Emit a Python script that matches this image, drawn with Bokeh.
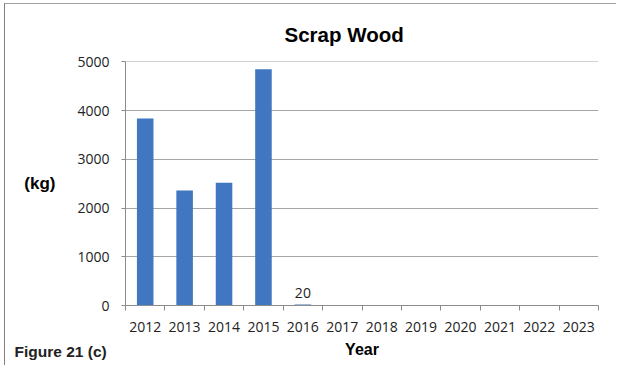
from bokeh.plotting import figure
from bokeh.models import Range1d, FixedTicker, ColumnDataSource, Title
from bokeh.core.properties import value
from bokeh.embed import file_html
from bokeh.resources import INLINE

years = ["2012", "2013", "2014", "2015", "2016", "2017", "2018",
         "2019", "2020", "2021", "2022", "2023"]
scrap_wood_kg = [3840, 2360, 2520, 4850, 20, None, None, None, None, None, None, None]
labelled_years = ["2016"]
y_ticks = [0, 1000, 2000, 3000, 4000, 5000]
title_text = "Scrap Wood"
y_label = "(kg)"
x_label = "Year"
figure_note = "Figure 21 (c)"

xs = [i + 0.5 for i in range(len(years))]
vals = [float("nan") if v is None else v for v in scrap_wood_kg]

p = figure(width=612, height=362, output_backend="svg", toolbar_location=None,
           x_range=Range1d(0, len(years)), y_range=Range1d(0, 5010),
           min_border_left=120, min_border_right=19, min_border_top=57,
           min_border_bottom=61, title=None)
p.styles = {"margin-left": "4px", "margin-top": "3px",
            "border-left": "1px solid #808080", "border-top": "1px solid #a0a0a0"}
p.outline_line_color = None
p.background_fill_color = "white"
p.border_fill_color = "white"

src = ColumnDataSource(dict(x=xs, top=vals))
p.vbar(x="x", top="top", width=0.42, source=src, fill_color="#4177c0", line_color=None)

lab_x = [xs[years.index(y)] for y in labelled_years]
lab_y = [scrap_wood_kg[years.index(y)] for y in labelled_years]
lab_t = [str(v) for v in lab_y]
p.text(x=lab_x, y=lab_y, text=lab_t, text_align="center", text_baseline="alphabetic",
       y_offset=-12, text_font=value("Open Sans"), text_font_size="14px", text_color="#222222")

# x axis
xa = p.xaxis[0]
xa.ticker = FixedTicker(ticks=xs, minor_ticks=list(range(len(years) + 1)))
xa.major_label_overrides = {x: y for x, y in zip(xs, years)}
xa.major_tick_in = 0
xa.major_tick_out = 0
xa.minor_tick_in = 0
xa.minor_tick_out = 5
xa.minor_tick_line_color = "#8c8c8c"
xa.axis_line_color = "#8c8c8c"
xa.major_label_text_font = "Open Sans"
xa.major_label_text_font_size = "14px"
xa.major_label_text_color = "#222222"
xa.major_label_standoff = 11
xa.axis_label = x_label
xa.axis_label_text_font = "Liberation Sans"
xa.axis_label_text_font_style = "bold"
xa.axis_label_text_font_size = "16px"
xa.axis_label_text_color = "black"
xa.axis_label_standoff = 6

# y axis
ya = p.yaxis[0]
ya.ticker = FixedTicker(ticks=y_ticks)
ya.major_tick_in = 0
ya.major_tick_out = 4
ya.major_tick_line_color = "#8c8c8c"
ya.minor_tick_line_color = None
ya.axis_line_color = "#8c8c8c"
ya.major_label_text_font = "Open Sans"
ya.major_label_text_font_size = "14px"
ya.major_label_text_color = "#222222"
ya.major_label_standoff = 12
ya.axis_label = y_label
ya.axis_label_orientation = "horizontal"
ya.axis_label_text_font = "Liberation Sans"
ya.axis_label_text_font_style = "bold"
ya.axis_label_text_font_size = "17px"
ya.axis_label_text_color = "black"
ya.axis_label_standoff = 19

p.xgrid.visible = False
p.ygrid.ticker = FixedTicker(ticks=y_ticks)
p.ygrid.grid_line_color = "#a6a6a6"

p.add_layout(Title(text=title_text, align="left", offset=159, standoff=31,
                   text_font="Liberation Sans", text_font_style="bold",
                   text_font_size="20.5px", text_color="black"), "above")

p.add_layout(Title(text=figure_note, align="left", offset=-111, standoff=-35,
                   vertical_align="top", text_font="Liberation Sans",
                   text_font_style="bold", text_font_size="15.5px",
                   text_color="#222222"), "below")

open("out.html", "w").write(file_html(p, INLINE))
